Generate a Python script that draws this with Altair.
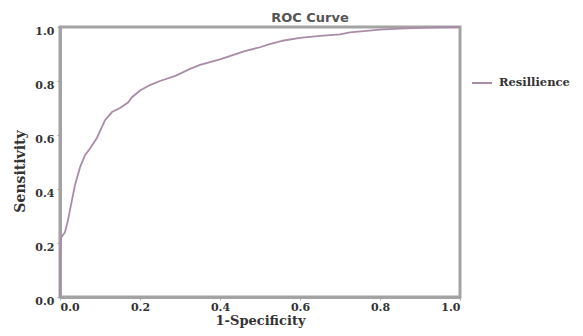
import altair as alt
import pandas as pd

fpr = [0.0, 0.0, 0.0025, 0.0125, 0.02, 0.03, 0.0375, 0.05, 0.0625, 0.075, 0.0925, 0.1125,
       0.13, 0.15, 0.17, 0.18, 0.2, 0.225, 0.25, 0.29, 0.325, 0.35, 0.4, 0.43, 0.46, 0.5,
       0.52, 0.56, 0.6, 0.65, 0.7, 0.725, 0.8, 0.85, 0.9, 0.95, 1.0]
tpr = [0.0, 0.15, 0.22, 0.24, 0.285, 0.36, 0.415, 0.48, 0.525, 0.55, 0.59, 0.655,
       0.685, 0.7, 0.72, 0.74, 0.765, 0.785, 0.8, 0.82, 0.845, 0.86, 0.88, 0.895, 0.91, 0.925,
       0.935, 0.95, 0.96, 0.967, 0.973, 0.98, 0.99, 0.994, 0.997, 0.999, 1.0]
series = "Resillience"

df = pd.DataFrame({"fpr": fpr, "tpr": tpr, "idx": list(range(len(fpr))), "series": series})

serif = "DejaVu Serif"
gray = "#a3a3a3"

chart = alt.Chart(df).mark_line(strokeWidth=1.8).encode(
    x=alt.X("fpr:Q", scale=alt.Scale(domain=[0, 1], nice=False),
            axis=alt.Axis(title="1-Specificity", values=[0, 0.2, 0.4, 0.6, 0.8, 1.0], format=".1f",
                          grid=False, domainColor=gray, domainWidth=3, tickColor=gray, tickSize=3,
                          labelFont=serif, labelFontWeight="bold", labelFontSize=11, labelColor="#333",
                          labelPadding=1, titleFont=serif, titleFontWeight="bold", titleFontSize=13,
                          titleColor="#333", titlePadding=2)),
    y=alt.Y("tpr:Q", scale=alt.Scale(domain=[0, 1], nice=False),
            axis=alt.Axis(title="Sensitivity", values=[0, 0.2, 0.4, 0.6, 0.8, 1.0], format=".1f",
                          grid=False, domainColor=gray, domainWidth=3, tickColor=gray, tickSize=3,
                          labelFont=serif, labelFontWeight="bold", labelFontSize=11, labelColor="#333",
                          labelPadding=3, labelOffset=4, titleFont=serif, titleFontWeight="bold",
                          titleFontSize=14, titleColor="#333", titleY=144, titleX=-33,
                          titleBaseline="bottom")),
    order="idx:Q",
    color=alt.Color("series:N", scale=alt.Scale(range=["#a98ca8"]),
                    legend=alt.Legend(title=None, orient="none", legendX=411, legendY=45,
                                      symbolType="stroke", symbolSize=400, symbolStrokeWidth=2,
                                      labelFont=serif, labelFontWeight="bold", labelFontSize=11.5,
                                      labelColor="#333", labelOffset=6)),
).properties(
    width=400, height=270,
    title=alt.TitleParams("ROC Curve", font="DejaVu Sans", fontWeight="bold", fontSize=13,
                          color="#555", anchor="middle", dx=50, offset=4, dy=6),
    autosize=alt.AutoSizeParams(type="none"),
    padding={"left": 52, "top": 19, "right": 115, "bottom": 31},
).configure_view(stroke=gray, strokeWidth=3)

chart.save("out.html", embed_options={"renderer": "svg", "actions": False})
